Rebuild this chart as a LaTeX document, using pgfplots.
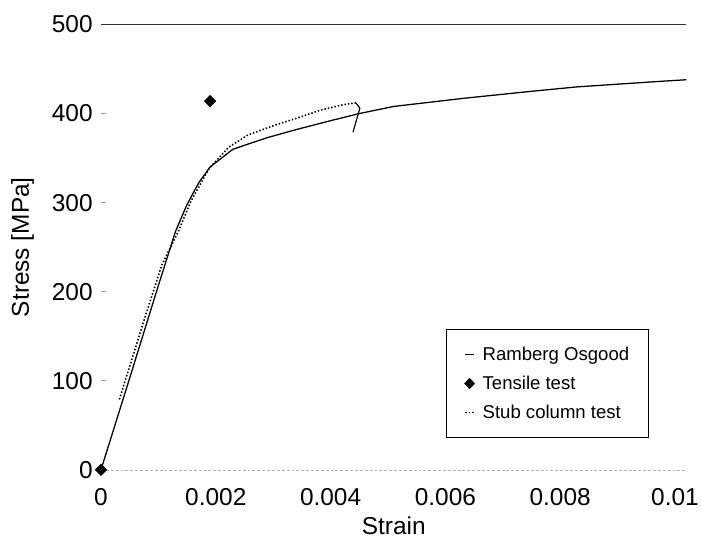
\documentclass[border=0pt]{standalone}
\usepackage{fontspec}
\setmainfont{Liberation Sans}
\usepackage{pgfplots}
\pgfplotsset{compat=1.18}
\pgfplotsset{
    shortline legend/.style={legend image code/.code={\draw[##1] (0bp,0bp) -- (9bp,0bp);}},
    mark legend/.style={legend image code/.code={\draw[##1, mark size=3.4bp] plot coordinates {(4.5bp,0bp)};}},
}

\begin{document}
\begin{tikzpicture}
\begin{axis}[
    scale only axis,
    width=597bp, height=454bp,
    xmin=0, xmax=0.0102, ymin=0, ymax=500,
    clip=false,
    axis x line*=bottom, axis y line*=left,
    x axis line style={gray!60, densely dashed, -},
    y axis line style={draw=none},
    xtick={0,0.002,0.004,0.006,0.008,0.01},
    xticklabels={0,0.002,0.004,0.006,0.008,0.01},
    scaled x ticks=false,
    ytick={0,100,200,300,400,500},
    x tick style={draw=none},
    y tick style={gray!80, line width=0.8bp},
    tick align=inside, major tick length=5bp,
    /pgf/number format/assume math mode=true,
    tick label style={font=\fontsize{25}{30}\selectfont},
    yticklabel style={xshift=-5bp},
    xticklabel style={yshift=-16bp},
    label style={font=\fontsize{25}{30}\selectfont},
    xlabel={Strain}, ylabel={Stress [MPa]},
    xlabel style={at={(axis description cs:0.5,0)}, anchor=base, yshift=-66bp},
    ylabel style={at={(axis description cs:0,0.5)}, anchor=center, yshift=80bp},
    extra y ticks={500}, extra y tick labels={},
    extra y tick style={grid=major, major tick length=0pt},
    major grid style={black!80, line width=0.9bp},
    legend style={at={(0.5896,0.0705)}, anchor=south west, draw=black, line width=1.2bp,
        font=\fontsize{19}{22}\selectfont, inner xsep=18bp, inner ysep=16bp, row sep=10.5bp,
        /tikz/every odd column/.append style={column sep=6bp}},
    legend cell align=left,
]
% Ramberg Osgood
\addplot[black, line width=1.3bp, shortline legend] coordinates {
    (0,0) (0.0005,103) (0.001,207) (0.0013,268) (0.0015,298) (0.0017,322)
    (0.0019,340) (0.0023,360) (0.0029,373) (0.0034,382) (0.004,392)
    (0.0045,400) (0.0051,408) (0.0059,414) (0.0063,417) (0.0075,425)
    (0.0083,430) (0.0097,436) (0.0102,438)
};
\addlegendentry{Ramberg Osgood}
% tensile test
\addplot[only marks, mark=square*, mark size=4.2bp, mark options={rotate=45}, black, mark legend] coordinates {
    (0,0) (0.0019,414)
};
\addlegendentry{Tensile test}
% stub column
\addplot[black, line width=1.6bp, dash pattern=on 1.5bp off 2bp, shortline legend] coordinates {
    (0.00032,79) (0.00077,172) (0.00106,230) (0.00135,268) (0.00157,302)
    (0.00188,338) (0.00222,362) (0.00256,376) (0.00303,387) (0.00342,395)
    (0.00383,404) (0.00422,410) (0.00444,412)
};
\addlegendentry{Stub column test}
\addplot[black, line width=1.2bp, forget plot] coordinates {
    (0.00444,412) (0.00451,406) (0.00439,379)
};
\end{axis}
\path (-103bp,-71bp) rectangle (599bp,479bp);
\end{tikzpicture}
\end{document}
